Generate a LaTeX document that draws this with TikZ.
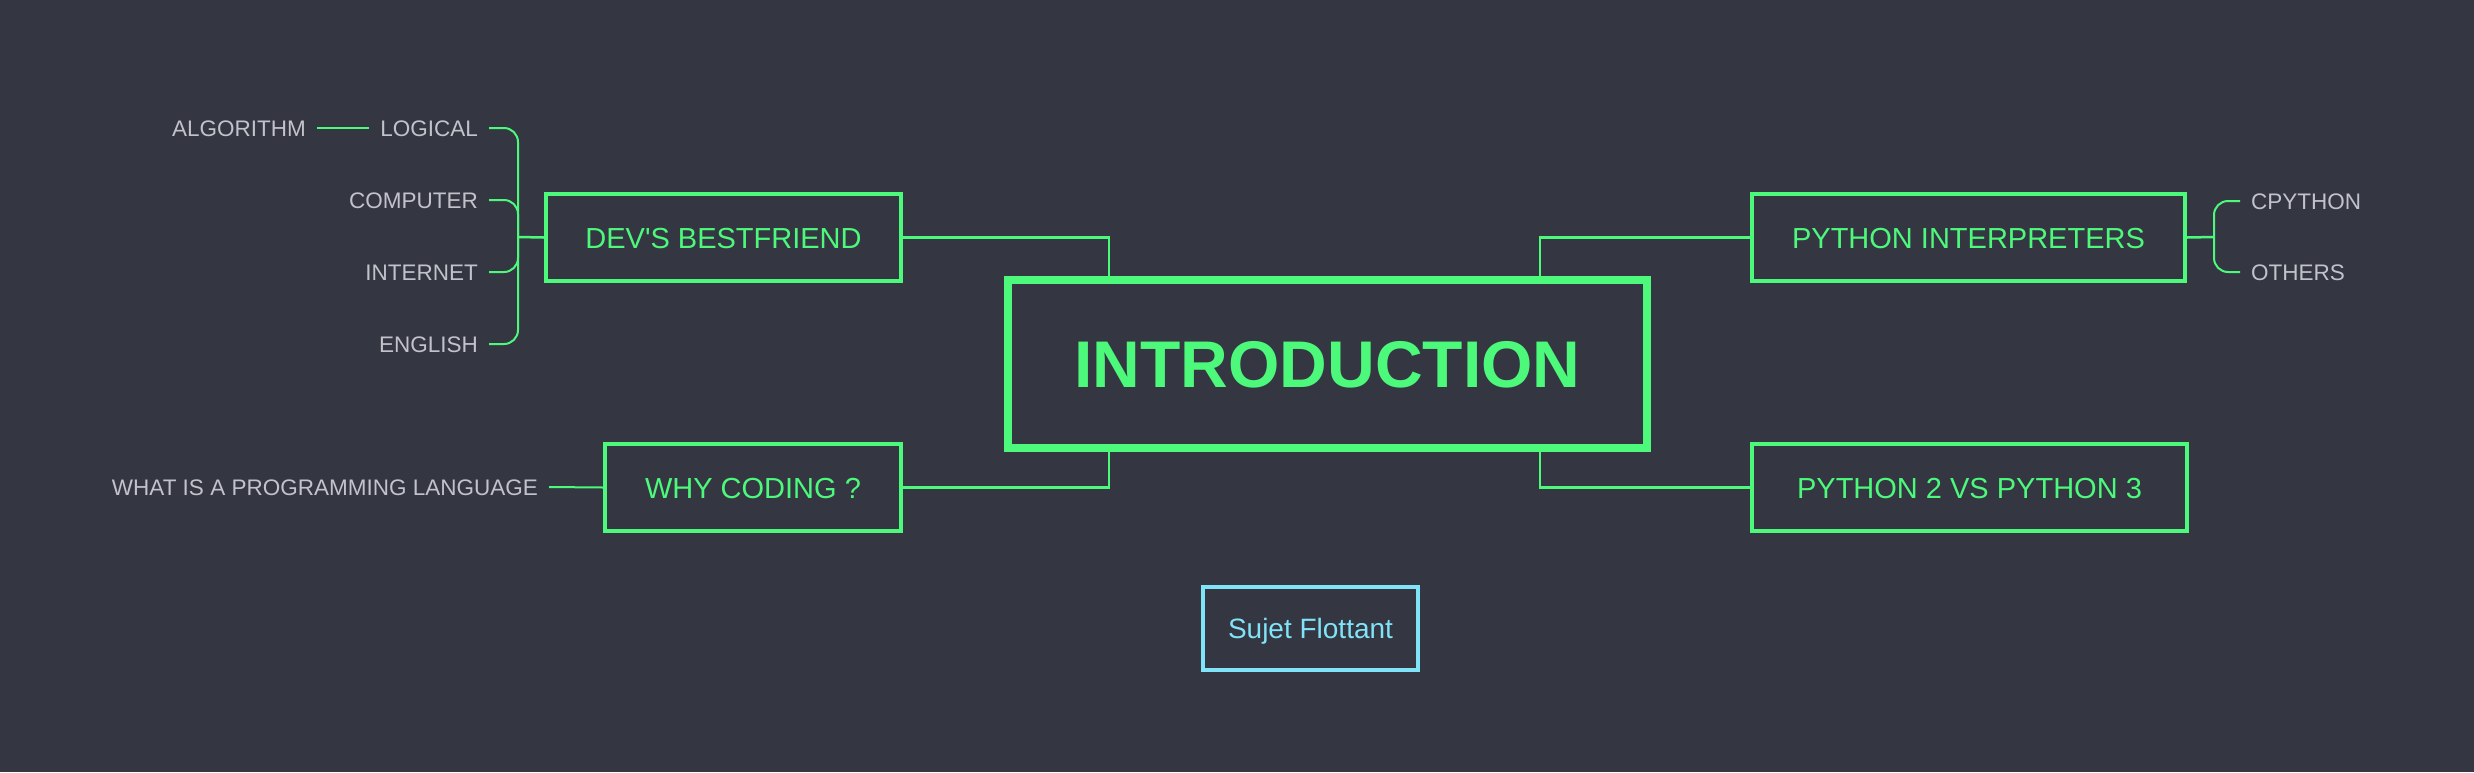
\documentclass[tikz,border=0pt]{standalone}
\usepackage{fontspec}
\setmainfont{Liberation Sans}[Ligatures=TeXOff]
\definecolor{bg}{HTML}{343642}
\definecolor{grn}{HTML}{4CF97B}
\definecolor{cyn}{HTML}{80E3F7}
\definecolor{gry}{HTML}{C2C2CA}
\begin{document}
\begin{tikzpicture}[x=1pt,y=-1pt,
  mainbox/.style={draw=grn, line width=8pt, minimum width=639pt, minimum height=168pt, text=grn,
    font=\fontsize{66}{70}\selectfont\bfseries, inner sep=0pt, text height=47pt, text depth=0pt},
  subbox/.style={draw=grn, line width=4pt, minimum height=87pt, text=grn,
    font=\fontsize{29}{34}\selectfont, inner sep=0pt, text height=21pt, text depth=0pt},
  floatbox/.style={draw=cyn, line width=4pt, minimum width=215pt, minimum height=83pt, text=cyn,
    font=\fontsize{28}{32}\selectfont, inner sep=0pt, text height=20pt, text depth=0pt},
  leaf/.style={text=gry, font=\fontsize{22.5}{27}\selectfont, inner xsep=11pt, inner ysep=0pt,
    text height=16pt, text depth=0pt},
  conn/.style={draw=grn, line width=2.5pt},
  brk/.style={draw=grn, line width=2pt, rounded corners=14pt}]
\fill[bg] (0,0) rectangle (2474,772);
\useasboundingbox (0,0) rectangle (2474,772);

\node[mainbox] (intro) at (1327.5,364) {INTRODUCTION};
\node[subbox, minimum width=355pt] (dev) at (723.5,237.5) {DEV'S BESTFRIEND};
\node[subbox, minimum width=296pt] (why) at (753,487.5) {WHY CODING ?};
\node[subbox, minimum width=433pt] (pi) at (1968.5,237.5) {PYTHON INTERPRETERS};
\node[subbox, minimum width=435pt] (p23) at (1969.5,487.5) {PYTHON 2 VS PYTHON 3};
\node[floatbox] (suj) at (1310.5,628.5) {Sujet Flottant};

\coordinate (sl) at (1109,0);
\coordinate (sr) at (1540,0);
\draw[conn] (dev.east) -| (intro.north -| sl);
\draw[conn] (pi.west) -| (intro.north -| sr);
\draw[conn] (why.east) -| (intro.south -| sl);
\draw[conn] (p23.west) -| (intro.south -| sr);

% left leaves
\node[leaf, anchor=east] (logical) at (489,128) {LOGICAL};
\node[leaf, anchor=east] (algo) at (317,128) {ALGORITHM};
\node[leaf, anchor=east] (computer) at (489,200) {COMPUTER};
\node[leaf, anchor=east] (internet) at (489,272) {INTERNET\hspace{6pt}};
\node[leaf, anchor=east] (english) at (489,344) {ENGLISH};
\draw[conn, line width=2pt] (algo.east) -- (logical.west);
\coordinate (bl) at (518,237);
\draw[brk] (logical.east) -| (bl);
\draw[brk] (computer.east) -| (bl);
\draw[brk] (internet.east) -| (bl);
\draw[brk] (english.east) -| (bl);
\draw[conn] (bl) -- (dev.west);

\node[leaf, anchor=east] (what) at (549,487) {WHAT IS A PROGRAMMING LANGUAGE};
\draw[conn, line width=2pt] (what.east) -- (why.west);

% right leaves
\node[leaf, anchor=west] (cpy) at (2240,201) {CPYTHON};
\node[leaf, anchor=west] (oth) at (2240,272) {OTHERS};
\coordinate (br) at (2214,237);
\draw[conn] (pi.east) -- (br);
\draw[brk] (cpy.west) -| (br);
\draw[brk] (oth.west) -| (br);
\end{tikzpicture}
\end{document}
